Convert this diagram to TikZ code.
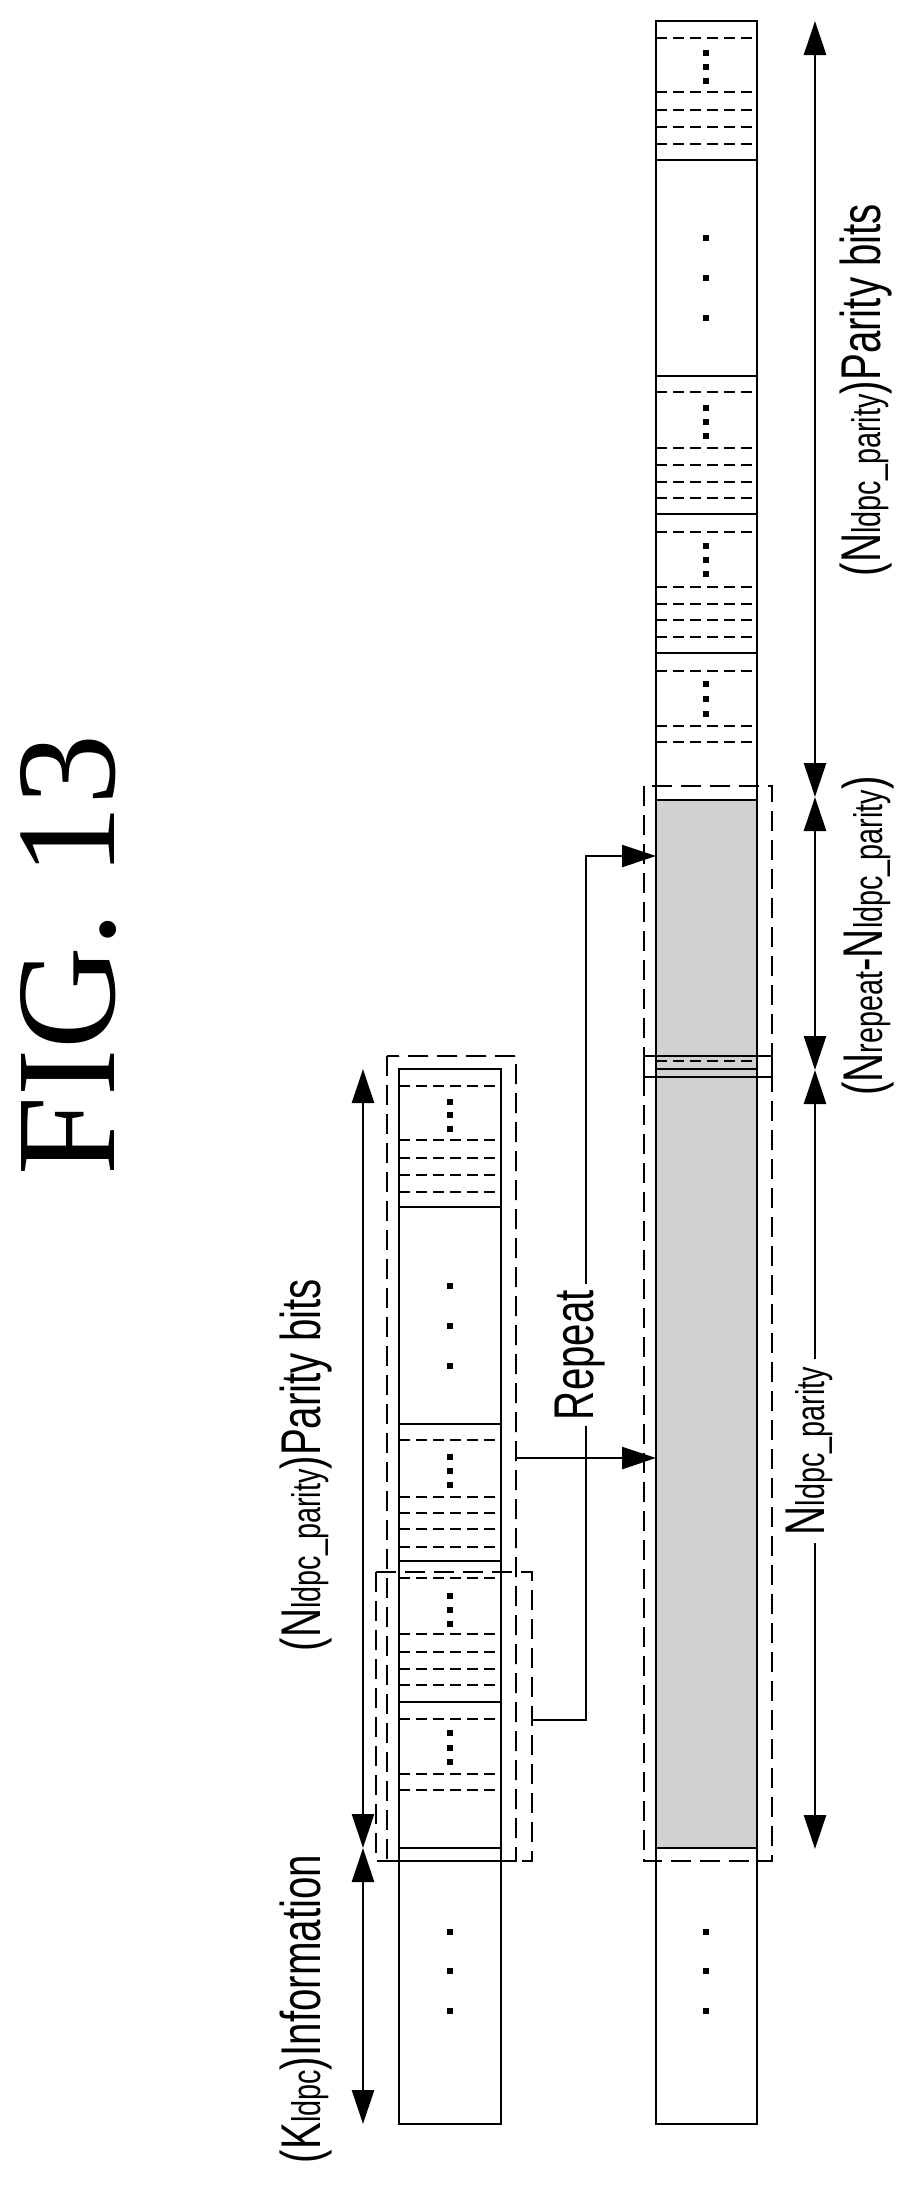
\documentclass[tikz,border=0pt]{standalone}
\usepackage{fontspec}
\setmainfont{Liberation Sans}
\newfontfamily\figfont{Liberation Serif}
\usetikzlibrary{arrows.meta}
\tikzset{
  colbox/.style={line width=2.6pt},
  thindash/.style={line width=1.6pt, dash pattern=on 11pt off 6pt},
  boxdash/.style={line width=1.8pt, dash pattern=on 20pt off 9pt},
  conn/.style={line width=2.4pt, -{Triangle[length=34pt,width=22pt]}},
  dim/.style={line width=2.6pt, {Triangle[length=34pt,width=22pt]}-{Triangle[length=34pt,width=22pt]}},
  lab/.style={rotate=90, inner sep=0pt, font=\fontsize{56}{56}\selectfont},
}
\newcommand{\cond}[1]{\scalebox{0.72}[1]{#1}}
\newcommand{\sm}[1]{{\fontsize{40}{40}\selectfont #1}}
\newcommand{\dotsq}[2]{\fill (#1-2.6,#2-2.6) rectangle (#1+2.6,#2+2.6);}
\begin{document}
\begin{tikzpicture}[x=1pt,y=-1pt]
\useasboundingbox (0,0) rectangle (920,2187);
% title
\node[rotate=90, inner sep=0pt, font=\figfont\fontsize{142}{142}\selectfont] (title) at (68,955) {FIG. 13};
% shaded region in right column
\fill[black!18] (656,800) rectangle (757,1848);
% ---- left column
\foreach \y in {1086,1140,1158,1175,1192,1440,1497,1513,1529,1547,1578,1634,1652,1669,1685,1719,1774,1790}
  \draw[thindash] (399,\y) -- (501,\y);
\foreach \y in {1207,1424,1561,1702,1848}
  \draw[colbox] (399,\y) -- (501,\y);
\draw[colbox] (399,1069) rectangle (501,2124);
\foreach \y in {1102,1115,1129,1286,1326,1366,1457,1471,1485,1596,1610,1624,1733,1748,1762,1932,1971,2011}
  \dotsq{450}{\y}
% ---- right column
\foreach \y in {38,92,110,127,144,392,448,465,482,498,532,587,604,620,637,671,726,742,1061}
  \draw[thindash] (656,\y) -- (757,\y);
\foreach \y in {160,376,514,653,800,1069,1848}
  \draw[colbox] (656,\y) -- (757,\y);
\draw[colbox] (656,21) rectangle (757,2124);
\foreach \y in {53,67,81,238,278,318,408,422,436,546,560,574,684,699,714,1932,1971,2011}
  \dotsq{706}{\y}
% ---- dashed grouping boxes
\draw[boxdash] (387,1056) rectangle (516,1861);
\draw[boxdash] (376,1572) rectangle (532,1861);
\draw[boxdash] (644,786) rectangle (772,1861);
\draw[line width=1.6pt] (644,1056) rectangle (772,1077);
% ---- named anchors
\coordinate (lo) at (516,1458);
\coordinate (ro) at (656,1458);
\coordinate (li) at (532,1720);
\coordinate (ri) at (656,856);
\coordinate (bend1) at (586,1720);
\coordinate (bend2) at (586,856);
% repeat connectors
\draw[conn] (lo) -- (ro);
\draw[conn] (li) -- (bend1) -- (bend2) -- (ri);
\node[lab, fill=white, inner sep=6pt] (rep) at (580,1355) {\cond{Repeat}};
% ---- dimension arrows
\coordinate (L1) at (363,1069);
\coordinate (L2) at (363,1848);
\coordinate (L3) at (363,2124);
\draw[dim] (L1) -- (L2);
\draw[dim] (L2) -- (L3);
\coordinate (R1) at (815,21);
\coordinate (R2) at (815,797);
\coordinate (R3) at (815,1070);
\coordinate (R4) at (815,1849);
\draw[dim] (R1) -- (R2);
\draw[dim] (R2) -- (R3);
\draw[dim] (R3) -- (R4);
\node[lab, fill=white, inner sep=8pt] (nl) at (809,1451) {\cond{N\sm{ldpc\_parity}}};
% ---- labels
\node[lab] (rp) at (866,390) {\cond{(N\sm{ldpc\_parity})Parity bits}};
\node[lab] (rr) at (868,936) {\cond{(N\sm{repeat}-N\sm{ldpc\_parity})}};
\node[lab] (lp) at (306,1465) {\cond{(N\sm{ldpc\_parity})Parity bits}};
\node[lab] (li2) at (306,2009) {\cond{(K\sm{ldpc})Information}};
\end{tikzpicture}
\end{document}
